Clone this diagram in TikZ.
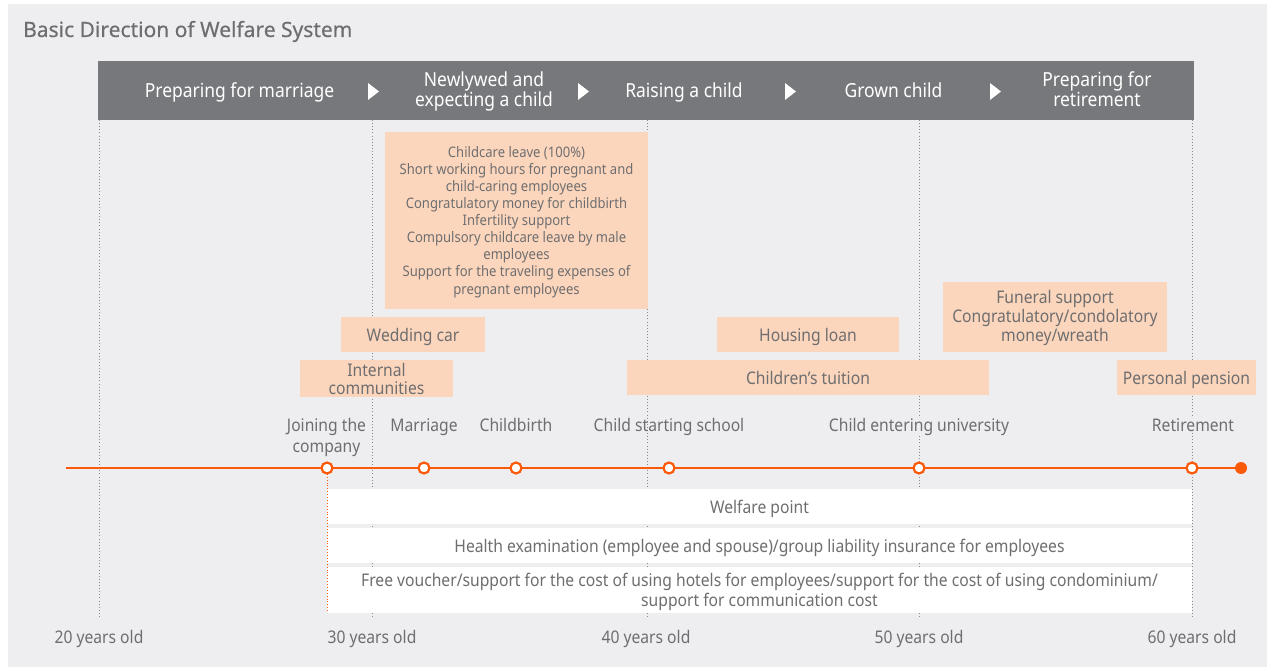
\documentclass[tikz,border=0pt]{standalone}
\usepackage{fontspec}
\setmainfont{Noto Sans}[FakeStretch=0.9]
\newfontfamily\titlefont{Noto Sans}[FakeBold=0.4]
\definecolor{bggrey}{HTML}{EEEEF0}
\definecolor{bannergrey}{HTML}{77787C}
\definecolor{peach}{HTML}{FCD6BC}
\definecolor{tgrey}{HTML}{6E6E70}
\definecolor{orng}{HTML}{FA5A0A}
\definecolor{dotgrey}{HTML}{8A8A8C}
\tikzset{
  lbl/.style={text=tgrey, inner sep=0pt, align=center, anchor=base, font=\fontsize{17.4}{21}\selectfont},
  bantxt/.style={text=white, inner sep=0pt, align=center, anchor=base, font=\fontsize{19.4}{20.5}\selectfont},
  smalltxt/.style={text=tgrey, inner sep=0pt, align=center, anchor=base, font=\fontsize{14.5}{17.1}\selectfont},
  peachbox/.style={fill=peach, draw=none, inner sep=0pt},
  whitebar/.style={fill=white, draw=none, inner sep=0pt},
  vdot/.style={dotgrey, line width=0.9pt, dash pattern=on 0.9pt off 2.2pt},
  event/.style={circle, draw=orng, line width=2.2pt, fill=white, minimum size=11pt, inner sep=0pt},
}
\begin{document}
\begin{tikzpicture}[x=1pt, y=-1pt]
\useasboundingbox (0,0) rectangle (1269,669);
\fill[bggrey] (8,4) rectangle (1267,667);
% title
\node[anchor=base west, inner sep=0pt, text=tgrey, font=\titlefont\fontsize{21}{22}\selectfont] (title) at (23,37) {Basic Direction of Welfare System};
% dotted verticals
\foreach \x/\n in {99/a,372/b,647/c,919/d,1192/e}{
  \coordinate (top\n) at (\x,120);
  \coordinate (bot\n) at (\x,619);
  \draw[vdot] (top\n) -- (bot\n);
}
% banner
\node[fill=bannergrey, minimum width=1096pt, minimum height=59pt, inner sep=0pt] (banner) at (646,90.5) {};
\node[bantxt] (s1) at (239.5,97.7) {Preparing for marriage};
\node[bantxt] (s2) at (484,106.7) {Newlywed and\\expecting a child};
\node[bantxt] (s3) at (684,97.7) {Raising a child};
\node[bantxt] (s4) at (893.5,97.7) {Grown child};
\node[bantxt] (s5) at (1097,106.7) {Preparing for\\retirement};
\foreach \x in {368,578,785,990}{
  \fill[white] (\x,83) -- (\x+11,91.5) -- (\x,100) -- cycle;
}
% peach boxes
\node[peachbox, minimum width=263pt, minimum height=177pt] (bigbox) at (516.5,220.5) {};
\node[smalltxt] (bigtxt) at (516.5,294) {Childcare leave (100\%)\\Short working hours for pregnant and\\child-caring employees\\Congratulatory money for childbirth\\Infertility support\\Compulsory childcare leave by male\\employees\\Support for the traveling expenses of\\pregnant employees};
\node[peachbox, minimum width=144pt, minimum height=35pt] (wedbox) at (413,334.5) {};
\node[lbl] (wedtxt) at (413,341.7) {Wedding car};
\node[peachbox, minimum width=153pt, minimum height=37pt] (intbox) at (376.5,378.5) {};
\node[lbl, font=\fontsize{17.4}{17.7}\selectfont] (inttxt) at (376.5,394.3) {Internal\\communities};
\node[peachbox, minimum width=182pt, minimum height=35pt] (housebox) at (808,334.5) {};
\node[lbl] (housetxt) at (808,341) {Housing loan};
\node[peachbox, minimum width=362pt, minimum height=35pt] (tuitbox) at (808,377.5) {};
\node[lbl] (tuittxt) at (808,384.3) {Children’s tuition};
\node[peachbox, minimum width=224pt, minimum height=70pt] (funbox) at (1055,317) {};
\node[lbl, font=\fontsize{17.4}{18.9}\selectfont] (funtxt) at (1055,341.7) {Funeral support\\Congratulatory/condolatory\\money/wreath};
\node[peachbox, minimum width=139pt, minimum height=35pt] (penbox) at (1186.5,377.5) {};
\node[lbl] (pentxt) at (1186.5,384.3) {Personal pension};
% white bars
\node[whitebar, minimum width=865pt, minimum height=35pt] (bar1) at (759.5,506.5) {};
\node[lbl] (bar1txt) at (759.5,513.3) {Welfare point};
\node[whitebar, minimum width=865pt, minimum height=35pt] (bar2) at (759.5,545.5) {};
\node[lbl] (bar2txt) at (759.5,552.3) {Health examination (employee and spouse)/group liability insurance for employees};
\node[whitebar, minimum width=865pt, minimum height=46pt] (bar3) at (759.5,590) {};
\node[lbl, font=\fontsize{17.4}{20.7}\selectfont] (bar3txt) at (759.5,606.7) {Free voucher/support for the cost of using hotels for employees/support for the cost of using condominium/\\support for communication cost};
% timeline
\coordinate (tstart) at (66,468);
\node[circle, fill=orng, minimum size=12pt, inner sep=0pt] (tend) at (1241,468) {};
\draw[orng, line width=2.2pt] (tstart) -- (tend.center);
\coordinate (jointop) at (327,468);
\coordinate (joinbot) at (327,613);
\draw[orng, line width=0.9pt, dash pattern=on 0.9pt off 2pt] (jointop) -- (joinbot);
\foreach \x/\n in {327/ej,424/em,516/ec,669/es,919/eu,1192/er}{
  \node[event] (\n) at (\x,468) {};
}
% event labels
\node[lbl, fill=bggrey] (lj) at (326.5,452.3) {Joining the\\company};
\node[lbl] (lm) at (424,431) {Marriage};
\node[lbl] (lc) at (516,431) {Childbirth};
\node[lbl] (ls) at (669,431) {Child starting school};
\node[lbl, fill=bggrey] (lu) at (919,431) {Child entering university};
\node[lbl, fill=bggrey] (lr) at (1193,431) {Retirement};
% ages
\foreach \x/\a in {99/20,372/30,646/40,919/50,1192/60}{
  \node[lbl] (age\a) at (\x,643) {\a{} years old};
}
\end{tikzpicture}
\end{document}
